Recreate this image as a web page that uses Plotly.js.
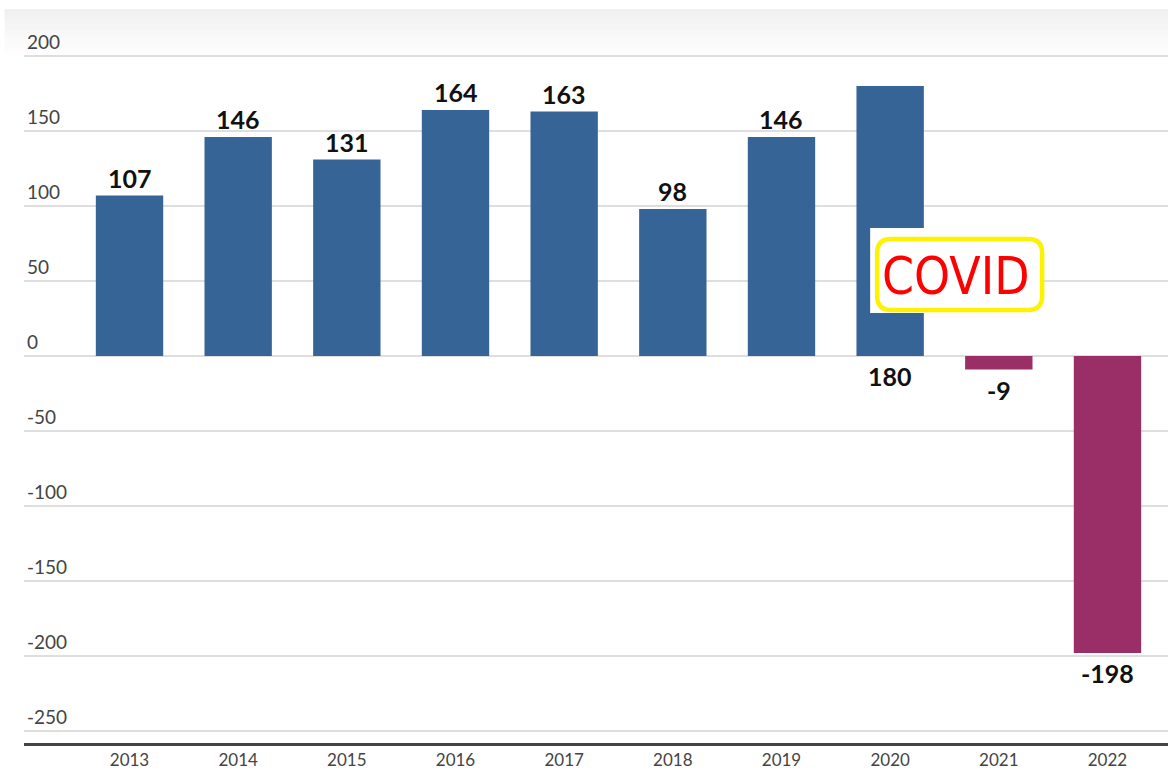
<!DOCTYPE html>
<html><head><meta charset="utf-8">
<script src="https://cdn.plot.ly/plotly-3.0.1.min.js"></script>
<style>html,body{margin:0;padding:0;background:#fff;}#chart{width:1168px;height:770px;}</style>
</head><body><div id="chart"></div>
<script>
const years = ['2013','2014','2015','2016','2017','2018','2019','2020','2021','2022'];
const values = [107, 146, 131, 164, 163, 98, 146, 180, -9, -198];
const yTicks = [200, 150, 100, 50, 0, -50, -100, -150, -200, -250];
const covidYear = '2020';
const covidLabel = 'COVID';

const BLUE = '#376496', PURPLE = '#992f66';
const colors = values.map(v => v >= 0 ? BLUE : PURPLE);
const covidIdx = years.indexOf(covidYear);

const H = 770, mB = 27, plotH = H - mB;
const pf = px => (plotH - px) / plotH; // pixel row -> paper fraction

const annotations = values.map((v, i) => {
  const below = v < 0 || i === covidIdx;
  return {
    x: i, y: i === covidIdx ? 0 : v, xref: 'x', yref: 'y',
    text: String(v), showarrow: false,
    yanchor: below ? 'top' : 'bottom', yshift: below ? -3 : 1,
    font: {family: 'Lato, "Open Sans", sans-serif', size: 25, color: '#111', weight: 700}
  };
});
annotations.push({
  x: covidIdx, y: 0, xref: 'x', yref: 'y', text: covidLabel, showarrow: false,
  xshift: 66, yshift: 80, xanchor: 'center', yanchor: 'middle',
  font: {family: '"DejaVu Sans Condensed", "Liberation Sans Narrow", sans-serif', size: 51, color: '#ff0000', stretch: 'condensed'}
});

const shapes = [];
// top grey gradient band
const g0 = 9, g1 = 57, n = 16;
for (let k = 0; k < n; k++) {
  const a = 0.11 * (1 - k / n);
  shapes.push({type: 'rect', xref: 'paper', yref: 'paper', x0: -0.017, x1: 1,
    y0: pf(g0 + (k + 1) * (g1 - g0) / n), y1: pf(g0 + k * (g1 - g0) / n),
    fillcolor: 'rgba(120,120,120,' + a.toFixed(3) + ')', line: {width: 0}, layer: 'below'});
}
// COVID box: white background + rounded yellow frame
shapes.push({type: 'path', xref: 'x', yref: 'y', xsizemode: 'pixel', ysizemode: 'pixel',
  xanchor: covidIdx, yanchor: 0, layer: 'above',
  path: 'M -20 43 L 153 43 L 153 128 L -20 128 Z', fillcolor: '#ffffff', line: {width: 0}});
const r = 14, x0 = -13, x1 = 152, y0 = 46, y1 = 117;
shapes.push({type: 'path', xref: 'x', yref: 'y', xsizemode: 'pixel', ysizemode: 'pixel',
  xanchor: covidIdx, yanchor: 0, layer: 'above',
  path: `M ${x0+r} ${y0} L ${x1-r} ${y0} Q ${x1} ${y0} ${x1} ${y0+r} L ${x1} ${y1-r} Q ${x1} ${y1} ${x1-r} ${y1} L ${x0+r} ${y1} Q ${x0} ${y1} ${x0} ${y1-r} L ${x0} ${y0+r} Q ${x0} ${y0} ${x0+r} ${y0} Z`,
  line: {color: '#fff200', width: 4.5}});

const trace = {
  type: 'bar', x: years, y: values, marker: {color: colors, line: {width: 0}},
  width: 0.62, hoverinfo: 'none'
};

const layout = {
  width: 1168, height: 770,
  margin: {l: 24, r: 0, t: 0, b: mB},
  paper_bgcolor: '#fff', plot_bgcolor: '#fff',
  showlegend: false,
  xaxis: {type: 'category', range: [-0.971, 9.557], showgrid: false, zeroline: false,
    showline: true, linecolor: '#444', linewidth: 3, ticks: '',
    tickfont: {family: 'Lato, "Open Sans", sans-serif', size: 17, color: '#444'}},
  yaxis: {range: [-258, 237.33], tickvals: yTicks, ticktext: yTicks.map(String),
    ticklabelposition: 'inside top', showgrid: true, gridcolor: '#dedede', gridwidth: 1.6,
    zeroline: false, showline: false, ticks: '',
    tickfont: {family: 'Lato, "Open Sans", sans-serif', size: 19, color: '#444'}},
  shapes: shapes, annotations: annotations, bargap: 0.38
};

Plotly.newPlot('chart', [trace], layout, {displayModeBar: false, staticPlot: true});
</script></body></html>
